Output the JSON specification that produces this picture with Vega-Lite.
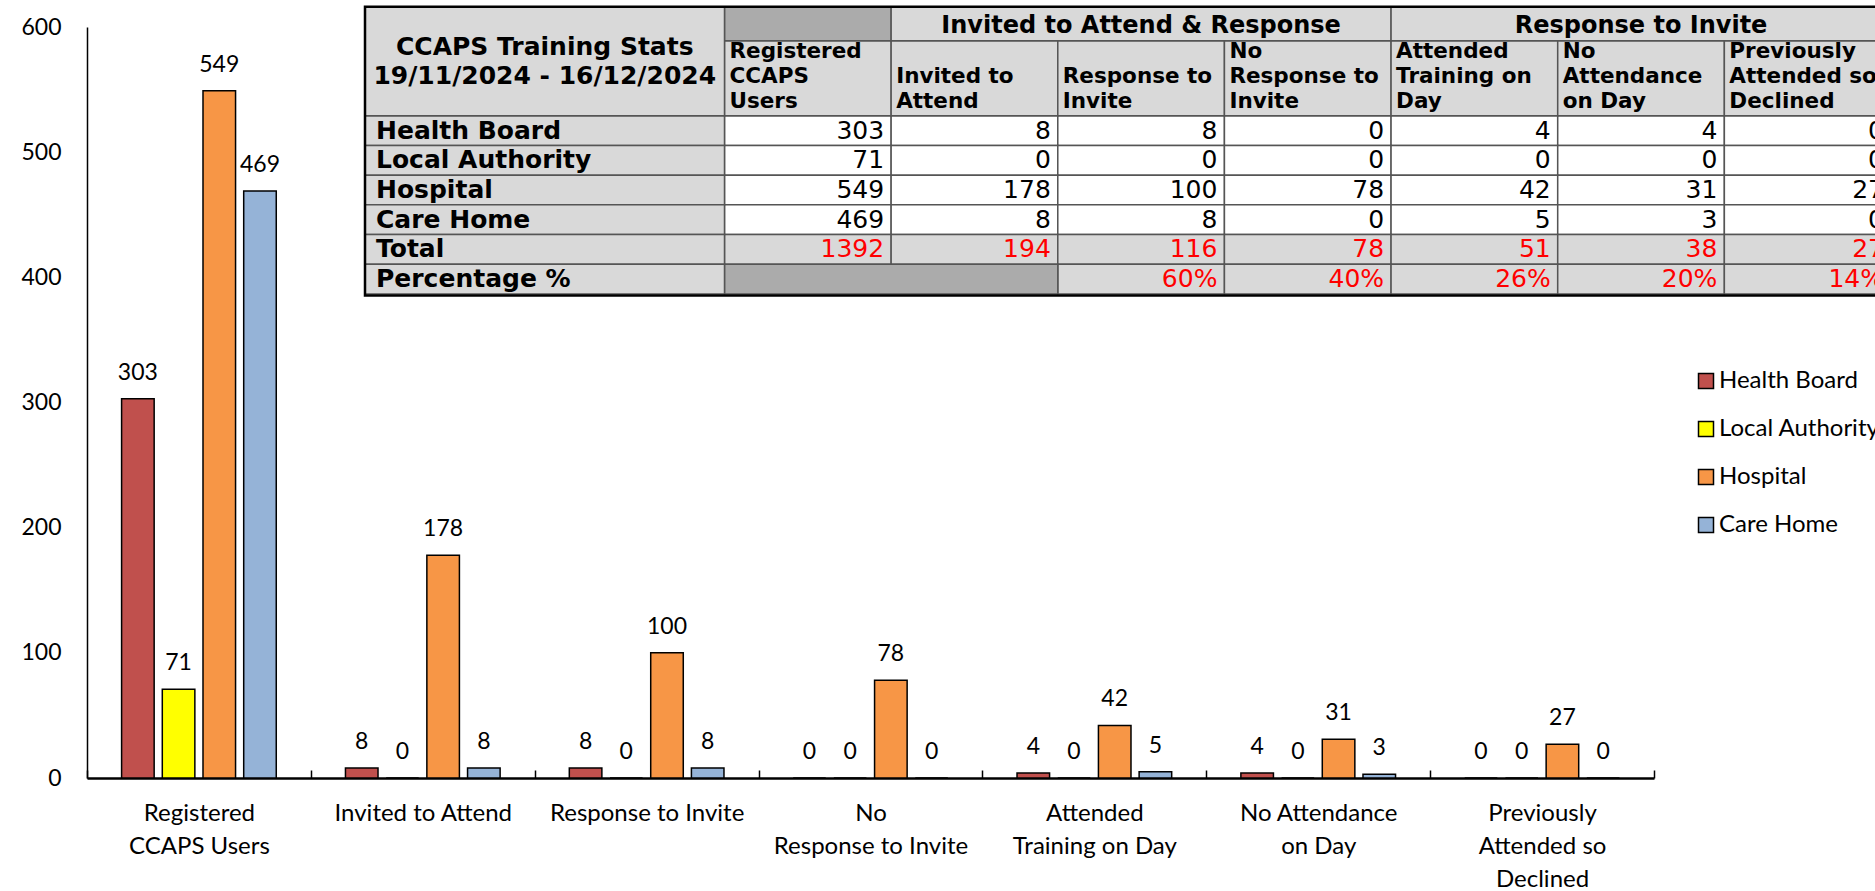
{
  "$schema": "https://vega.github.io/schema/vega-lite/v6.json",
  "width": 1567,
  "height": 751,
  "autosize": {"type": "none"},
  "padding": {"left": 87, "top": 27, "right": 221, "bottom": 113},
  "background": "white",
  "config": {"view": {"stroke": null}, "font": "Lato"},
  "datasets": {
    "stats": [
      {"sector": "Health Board", "measure": "Registered CCAPS Users", "value": 303},
      {"sector": "Health Board", "measure": "Invited to Attend", "value": 8},
      {"sector": "Health Board", "measure": "Response to Invite", "value": 8},
      {"sector": "Health Board", "measure": "No Response to Invite", "value": 0},
      {"sector": "Health Board", "measure": "Attended Training on Day", "value": 4},
      {"sector": "Health Board", "measure": "No Attendance on Day", "value": 4},
      {"sector": "Health Board", "measure": "Previously Attended so Declined", "value": 0},
      {"sector": "Local Authority", "measure": "Registered CCAPS Users", "value": 71},
      {"sector": "Local Authority", "measure": "Invited to Attend", "value": 0},
      {"sector": "Local Authority", "measure": "Response to Invite", "value": 0},
      {"sector": "Local Authority", "measure": "No Response to Invite", "value": 0},
      {"sector": "Local Authority", "measure": "Attended Training on Day", "value": 0},
      {"sector": "Local Authority", "measure": "No Attendance on Day", "value": 0},
      {"sector": "Local Authority", "measure": "Previously Attended so Declined", "value": 0},
      {"sector": "Hospital", "measure": "Registered CCAPS Users", "value": 549},
      {"sector": "Hospital", "measure": "Invited to Attend", "value": 178},
      {"sector": "Hospital", "measure": "Response to Invite", "value": 100},
      {"sector": "Hospital", "measure": "No Response to Invite", "value": 78},
      {"sector": "Hospital", "measure": "Attended Training on Day", "value": 42},
      {"sector": "Hospital", "measure": "No Attendance on Day", "value": 31},
      {"sector": "Hospital", "measure": "Previously Attended so Declined", "value": 27},
      {"sector": "Care Home", "measure": "Registered CCAPS Users", "value": 469},
      {"sector": "Care Home", "measure": "Invited to Attend", "value": 8},
      {"sector": "Care Home", "measure": "Response to Invite", "value": 8},
      {"sector": "Care Home", "measure": "No Response to Invite", "value": 0},
      {"sector": "Care Home", "measure": "Attended Training on Day", "value": 5},
      {"sector": "Care Home", "measure": "No Attendance on Day", "value": 3},
      {"sector": "Care Home", "measure": "Previously Attended so Declined", "value": 0},
      {"sector": "Total", "measure": "Registered CCAPS Users", "value": 1392},
      {"sector": "Total", "measure": "Invited to Attend", "value": 194},
      {"sector": "Total", "measure": "Response to Invite", "value": 116},
      {"sector": "Total", "measure": "No Response to Invite", "value": 78},
      {"sector": "Total", "measure": "Attended Training on Day", "value": 51},
      {"sector": "Total", "measure": "No Attendance on Day", "value": 38},
      {"sector": "Total", "measure": "Previously Attended so Declined", "value": 27},
      {"sector": "Percentage %", "measure": "Response to Invite", "value": 0.60},
      {"sector": "Percentage %", "measure": "No Response to Invite", "value": 0.40},
      {"sector": "Percentage %", "measure": "Attended Training on Day", "value": 0.26},
      {"sector": "Percentage %", "measure": "No Attendance on Day", "value": 0.20},
      {"sector": "Percentage %", "measure": "Previously Attended so Declined", "value": 0.14}
    ],
    "rows": [
      {"sector": "Health Board"}, {"sector": "Local Authority"}, {"sector": "Hospital"},
      {"sector": "Care Home"}, {"sector": "Total"}, {"sector": "Percentage %"}
    ],
    "columns": [
      {"measure": "Registered CCAPS Users", "heading": "Registered\nCCAPS\nUsers"},
      {"measure": "Invited to Attend", "heading": "\nInvited to\nAttend"},
      {"measure": "Response to Invite", "heading": "\nResponse to\nInvite"},
      {"measure": "No Response to Invite", "heading": "No\nResponse to\nInvite"},
      {"measure": "Attended Training on Day", "heading": "Attended\nTraining on\nDay"},
      {"measure": "No Attendance on Day", "heading": "No\nAttendance\non Day"},
      {"measure": "Previously Attended so Declined", "heading": "Previously\nAttended so\nDeclined"}
    ],
    "groups": [
      {"heading": "", "first": "Registered CCAPS Users", "last": "Registered CCAPS Users"},
      {"heading": "Invited to Attend & Response", "first": "Invited to Attend", "last": "No Response to Invite"},
      {"heading": "Response to Invite", "first": "Attended Training on Day", "last": "Previously Attended so Declined"}
    ],
    "merged": [
      {"sector": "Percentage %", "first": "Registered CCAPS Users", "last": "Invited to Attend"}
    ],
    "caption": [
      {"caption": "CCAPS Training Stats\n19/11/2024 - 16/12/2024"}
    ]
  },
  "resolve": {"scale": {"x": "independent", "y": "independent"}, "axis": {"x": "independent", "y": "independent"}},
  "layer": [
    {
      "data": {"name": "stats"},
      "transform": [{"filter": {"field": "sector", "oneOf": ["Health Board", "Local Authority", "Hospital", "Care Home"]}}],
      "encoding": {
        "x": {
          "field": "measure", "type": "nominal",
          "sort": ["Registered CCAPS Users", "Invited to Attend", "Response to Invite", "No Response to Invite", "Attended Training on Day", "No Attendance on Day", "Previously Attended so Declined"],
          "scale": {"paddingInner": 0, "paddingOuter": 0},
          "axis": {
            "title": null, "labelAngle": 0, "labelFont": "Lato", "labelFontSize": 24, "labelColor": "black",
            "labelLineHeight": 33, "labelBaseline": "top", "labelPadding": 31, "labelLimit": 0,
            "labelExpr": "datum.label == 'Registered CCAPS Users' ? ['Registered', 'CCAPS Users'] : datum.label == 'No Response to Invite' ? ['No', 'Response to Invite'] : datum.label == 'Attended Training on Day' ? ['Attended', 'Training on Day'] : datum.label == 'No Attendance on Day' ? ['No Attendance', 'on Day'] : datum.label == 'Previously Attended so Declined' ? ['Previously', 'Attended so', 'Declined'] : datum.label",
            "domainColor": "black", "domainWidth": 2.5, "ticks": true, "tickColor": "black", "tickWidth": 1.5,
            "tickSize": -8, "tickBand": "extent", "grid": false
          }
        },
        "xOffset": {
          "field": "sector", "type": "nominal",
          "sort": ["Health Board", "Local Authority", "Hospital", "Care Home"],
          "scale": {"paddingInner": 0.2, "paddingOuter": 0.85}
        },
        "y": {
          "field": "value", "type": "quantitative",
          "scale": {"domain": [0, 600], "nice": false},
          "axis": {
            "title": null, "values": [0, 100, 200, 300, 400, 500, 600], "labelFont": "Lato", "labelFontSize": 23,
            "labelColor": "black", "ticks": false, "labelPadding": 26, "domainColor": "black", "domainWidth": 1.5,
            "grid": false
          }
        }
      },
      "layer": [
        {
          "mark": {"type": "bar", "stroke": "black", "strokeWidth": 1.5},
          "encoding": {
            "color": {
              "field": "sector", "type": "nominal",
              "scale": {"domain": ["Health Board", "Local Authority", "Hospital", "Care Home"], "range": ["#C0504D", "#FFFF00", "#F79646", "#95B3D7"]},
              "legend": {
                "title": null, "orient": "none", "legendX": 1607, "legendY": 342, "symbolType": "square",
                "symbolSize": 225, "symbolStrokeColor": "black", "symbolStrokeWidth": 1.5, "symbolOpacity": 1,
                "labelFont": "Lato", "labelFontSize": 24, "labelColor": "black", "labelOffset": 1,
                "rowPadding": 24, "padding": 0, "labelLimit": 0
              }
            }
          }
        },
        {
          "mark": {"type": "text", "baseline": "alphabetic", "dy": -19, "font": "Lato", "fontSize": 23, "color": "black"},
          "encoding": {"text": {"field": "value", "type": "quantitative", "format": "d"}}
        }
      ]
    },
    {
      "data": {"name": "stats"},
      "layer": [
        {
          "mark": {"type": "rect", "stroke": "#555555", "strokeWidth": 1.5},
          "encoding": {
            "x": {"field": "measure", "type": "nominal", "axis": null,
              "scale": {"domain": ["Registered CCAPS Users", "Invited to Attend", "Response to Invite", "No Response to Invite", "Attended Training on Day", "No Attendance on Day", "Previously Attended so Declined"], "range": [637.5, 1804], "paddingInner": 0, "paddingOuter": 0}},
            "y": {"field": "sector", "type": "nominal", "axis": null,
              "scale": {"domain": ["Health Board", "Local Authority", "Hospital", "Care Home", "Total", "Percentage %"], "range": [88.7, 267], "paddingInner": 0, "paddingOuter": 0}},
            "fill": {"condition": {"test": "datum.sector === 'Total' || datum.sector === 'Percentage %'", "value": "#D9D9D9"}, "value": "white"}
          }
        },
        {
          "data": {"name": "merged"},
          "mark": {"type": "rect", "fill": "#ABABAB", "stroke": "#555555", "strokeWidth": 1.5},
          "encoding": {
            "x": {"field": "first", "type": "nominal", "bandPosition": 0, "axis": null,
              "scale": {"domain": ["Registered CCAPS Users", "Invited to Attend", "Response to Invite", "No Response to Invite", "Attended Training on Day", "No Attendance on Day", "Previously Attended so Declined"], "range": [637.5, 1804], "paddingInner": 0, "paddingOuter": 0}},
            "x2": {"field": "last", "bandPosition": 1},
            "y": {"field": "sector", "type": "nominal", "axis": null,
              "scale": {"domain": ["Health Board", "Local Authority", "Hospital", "Care Home", "Total", "Percentage %"], "range": [88.7, 267], "paddingInner": 0, "paddingOuter": 0}}
          }
        },
        {
          "transform": [{"filter": "datum.sector !== 'Percentage %'"}],
          "mark": {"type": "text", "align": "right", "baseline": "middle", "dx": -7, "font": "DejaVu Sans", "fontSize": 25},
          "encoding": {
            "x": {"field": "measure", "type": "nominal", "bandPosition": 1, "axis": null,
              "scale": {"domain": ["Registered CCAPS Users", "Invited to Attend", "Response to Invite", "No Response to Invite", "Attended Training on Day", "No Attendance on Day", "Previously Attended so Declined"], "range": [637.5, 1804], "paddingInner": 0, "paddingOuter": 0}},
            "y": {"field": "sector", "type": "nominal", "axis": null,
              "scale": {"domain": ["Health Board", "Local Authority", "Hospital", "Care Home", "Total", "Percentage %"], "range": [88.7, 267], "paddingInner": 0, "paddingOuter": 0}},
            "text": {"field": "value", "type": "quantitative", "format": "d"},
            "color": {"condition": {"test": "datum.sector === 'Total'", "value": "#FF0000"}, "value": "black"}
          }
        },
        {
          "transform": [{"filter": "datum.sector === 'Percentage %'"}],
          "mark": {"type": "text", "align": "right", "baseline": "middle", "dx": -7, "font": "DejaVu Sans", "fontSize": 25, "color": "#FF0000"},
          "encoding": {
            "x": {"field": "measure", "type": "nominal", "bandPosition": 1, "axis": null,
              "scale": {"domain": ["Registered CCAPS Users", "Invited to Attend", "Response to Invite", "No Response to Invite", "Attended Training on Day", "No Attendance on Day", "Previously Attended so Declined"], "range": [637.5, 1804], "paddingInner": 0, "paddingOuter": 0}},
            "y": {"field": "sector", "type": "nominal", "axis": null,
              "scale": {"domain": ["Health Board", "Local Authority", "Hospital", "Care Home", "Total", "Percentage %"], "range": [88.7, 267], "paddingInner": 0, "paddingOuter": 0}},
            "text": {"field": "value", "type": "quantitative", "format": ".0%"}
          }
        }
      ]
    },
    {
      "data": {"name": "rows"},
      "layer": [
        {
          "mark": {"type": "rect", "fill": "#D9D9D9", "stroke": "#555555", "strokeWidth": 1.5},
          "encoding": {
            "x": {"datum": "label", "type": "nominal", "axis": null,
              "scale": {"domain": ["label"], "range": [278, 637.5], "paddingInner": 0, "paddingOuter": 0}},
            "y": {"field": "sector", "type": "nominal", "axis": null,
              "scale": {"domain": ["Health Board", "Local Authority", "Hospital", "Care Home", "Total", "Percentage %"], "range": [88.7, 267], "paddingInner": 0, "paddingOuter": 0}}
          }
        },
        {
          "mark": {"type": "text", "align": "left", "baseline": "middle", "dx": 11, "font": "DejaVu Sans", "fontWeight": "bold", "fontSize": 25, "color": "black"},
          "encoding": {
            "x": {"datum": "label", "type": "nominal", "bandPosition": 0, "axis": null,
              "scale": {"domain": ["label"], "range": [278, 637.5], "paddingInner": 0, "paddingOuter": 0}},
            "y": {"field": "sector", "type": "nominal", "axis": null,
              "scale": {"domain": ["Health Board", "Local Authority", "Hospital", "Care Home", "Total", "Percentage %"], "range": [88.7, 267], "paddingInner": 0, "paddingOuter": 0}},
            "text": {"field": "sector", "type": "nominal"}
          }
        }
      ]
    },
    {
      "data": {"name": "columns"},
      "layer": [
        {
          "mark": {"type": "rect", "fill": "#D9D9D9", "stroke": "#555555", "strokeWidth": 1.5},
          "encoding": {
            "x": {"field": "measure", "type": "nominal", "axis": null,
              "scale": {"domain": ["Registered CCAPS Users", "Invited to Attend", "Response to Invite", "No Response to Invite", "Attended Training on Day", "No Attendance on Day", "Previously Attended so Declined"], "range": [637.5, 1804], "paddingInner": 0, "paddingOuter": 0}},
            "y": {"datum": "heading", "type": "nominal", "axis": null,
              "scale": {"domain": ["heading"], "range": [13.7, 88.7], "paddingInner": 0, "paddingOuter": 0}}
          }
        },
        {
          "mark": {"type": "text", "align": "left", "baseline": "middle", "dx": 5, "dy": 11, "lineBreak": "\n", "lineHeight": 25, "font": "DejaVu Sans", "fontWeight": "bold", "fontSize": 21.5, "color": "black"},
          "encoding": {
            "x": {"field": "measure", "type": "nominal", "bandPosition": 0, "axis": null,
              "scale": {"domain": ["Registered CCAPS Users", "Invited to Attend", "Response to Invite", "No Response to Invite", "Attended Training on Day", "No Attendance on Day", "Previously Attended so Declined"], "range": [637.5, 1804], "paddingInner": 0, "paddingOuter": 0}},
            "y": {"datum": "heading", "type": "nominal", "bandPosition": 0, "axis": null,
              "scale": {"domain": ["heading"], "range": [13.7, 88.7], "paddingInner": 0, "paddingOuter": 0}},
            "text": {"field": "heading", "type": "nominal"}
          }
        }
      ]
    },
    {
      "data": {"name": "groups"},
      "layer": [
        {
          "mark": {"type": "rect", "stroke": "#555555", "strokeWidth": 1.5},
          "encoding": {
            "x": {"field": "first", "type": "nominal", "bandPosition": 0, "axis": null,
              "scale": {"domain": ["Registered CCAPS Users", "Invited to Attend", "Response to Invite", "No Response to Invite", "Attended Training on Day", "No Attendance on Day", "Previously Attended so Declined"], "range": [637.5, 1804], "paddingInner": 0, "paddingOuter": 0}},
            "x2": {"field": "last", "bandPosition": 1},
            "y": {"datum": "group", "type": "nominal", "axis": null,
              "scale": {"domain": ["group"], "range": [-20.3, 13.7], "paddingInner": 0, "paddingOuter": 0}},
            "fill": {"condition": {"test": "datum.heading === ''", "value": "#ABABAB"}, "value": "#D9D9D9"}
          }
        },
        {
          "mark": {"type": "text", "align": "center", "baseline": "middle", "dy": 2, "font": "DejaVu Sans", "fontWeight": "bold", "fontSize": 24, "color": "black"},
          "encoding": {
            "x": {"field": "first", "type": "nominal", "bandPosition": 1.5, "axis": null,
              "scale": {"domain": ["Registered CCAPS Users", "Invited to Attend", "Response to Invite", "No Response to Invite", "Attended Training on Day", "No Attendance on Day", "Previously Attended so Declined"], "range": [637.5, 1804], "paddingInner": 0, "paddingOuter": 0}},
            "y": {"datum": "group", "type": "nominal", "axis": null,
              "scale": {"domain": ["group"], "range": [-20.3, 13.7], "paddingInner": 0, "paddingOuter": 0}},
            "text": {"field": "heading", "type": "nominal"}
          }
        }
      ]
    },
    {
      "data": {"name": "caption"},
      "layer": [
        {
          "mark": {"type": "rect", "fill": "#D9D9D9", "stroke": "#555555", "strokeWidth": 1.5},
          "encoding": {
            "x": {"datum": "label", "type": "nominal", "axis": null,
              "scale": {"domain": ["label"], "range": [278, 637.5], "paddingInner": 0, "paddingOuter": 0}},
            "y": {"datum": "title", "type": "nominal", "axis": null,
              "scale": {"domain": ["title"], "range": [-20.3, 88.7], "paddingInner": 0, "paddingOuter": 0}}
          }
        },
        {
          "mark": {"type": "text", "align": "center", "baseline": "middle", "dy": -14, "lineBreak": "\n", "lineHeight": 29, "font": "DejaVu Sans", "fontWeight": "bold", "fontSize": 25, "color": "black"},
          "encoding": {
            "x": {"datum": "label", "type": "nominal", "axis": null,
              "scale": {"domain": ["label"], "range": [278, 637.5], "paddingInner": 0, "paddingOuter": 0}},
            "y": {"datum": "title", "type": "nominal", "axis": null,
              "scale": {"domain": ["title"], "range": [-20.3, 88.7], "paddingInner": 0, "paddingOuter": 0}},
            "text": {"field": "caption", "type": "nominal"}
          }
        }
      ]
    },
    {
      "data": {"name": "caption"},
      "mark": {"type": "rect", "fill": null, "stroke": "black", "strokeWidth": 2.5},
      "encoding": {
        "x": {"datum": "table", "type": "nominal", "axis": null,
          "scale": {"domain": ["table"], "range": [278, 1804], "paddingInner": 0, "paddingOuter": 0}},
        "y": {"datum": "frame", "type": "nominal", "axis": null,
          "scale": {"domain": ["frame"], "range": [-20.3, 268.5], "paddingInner": 0, "paddingOuter": 0}}
      }
    }
  ]
}
